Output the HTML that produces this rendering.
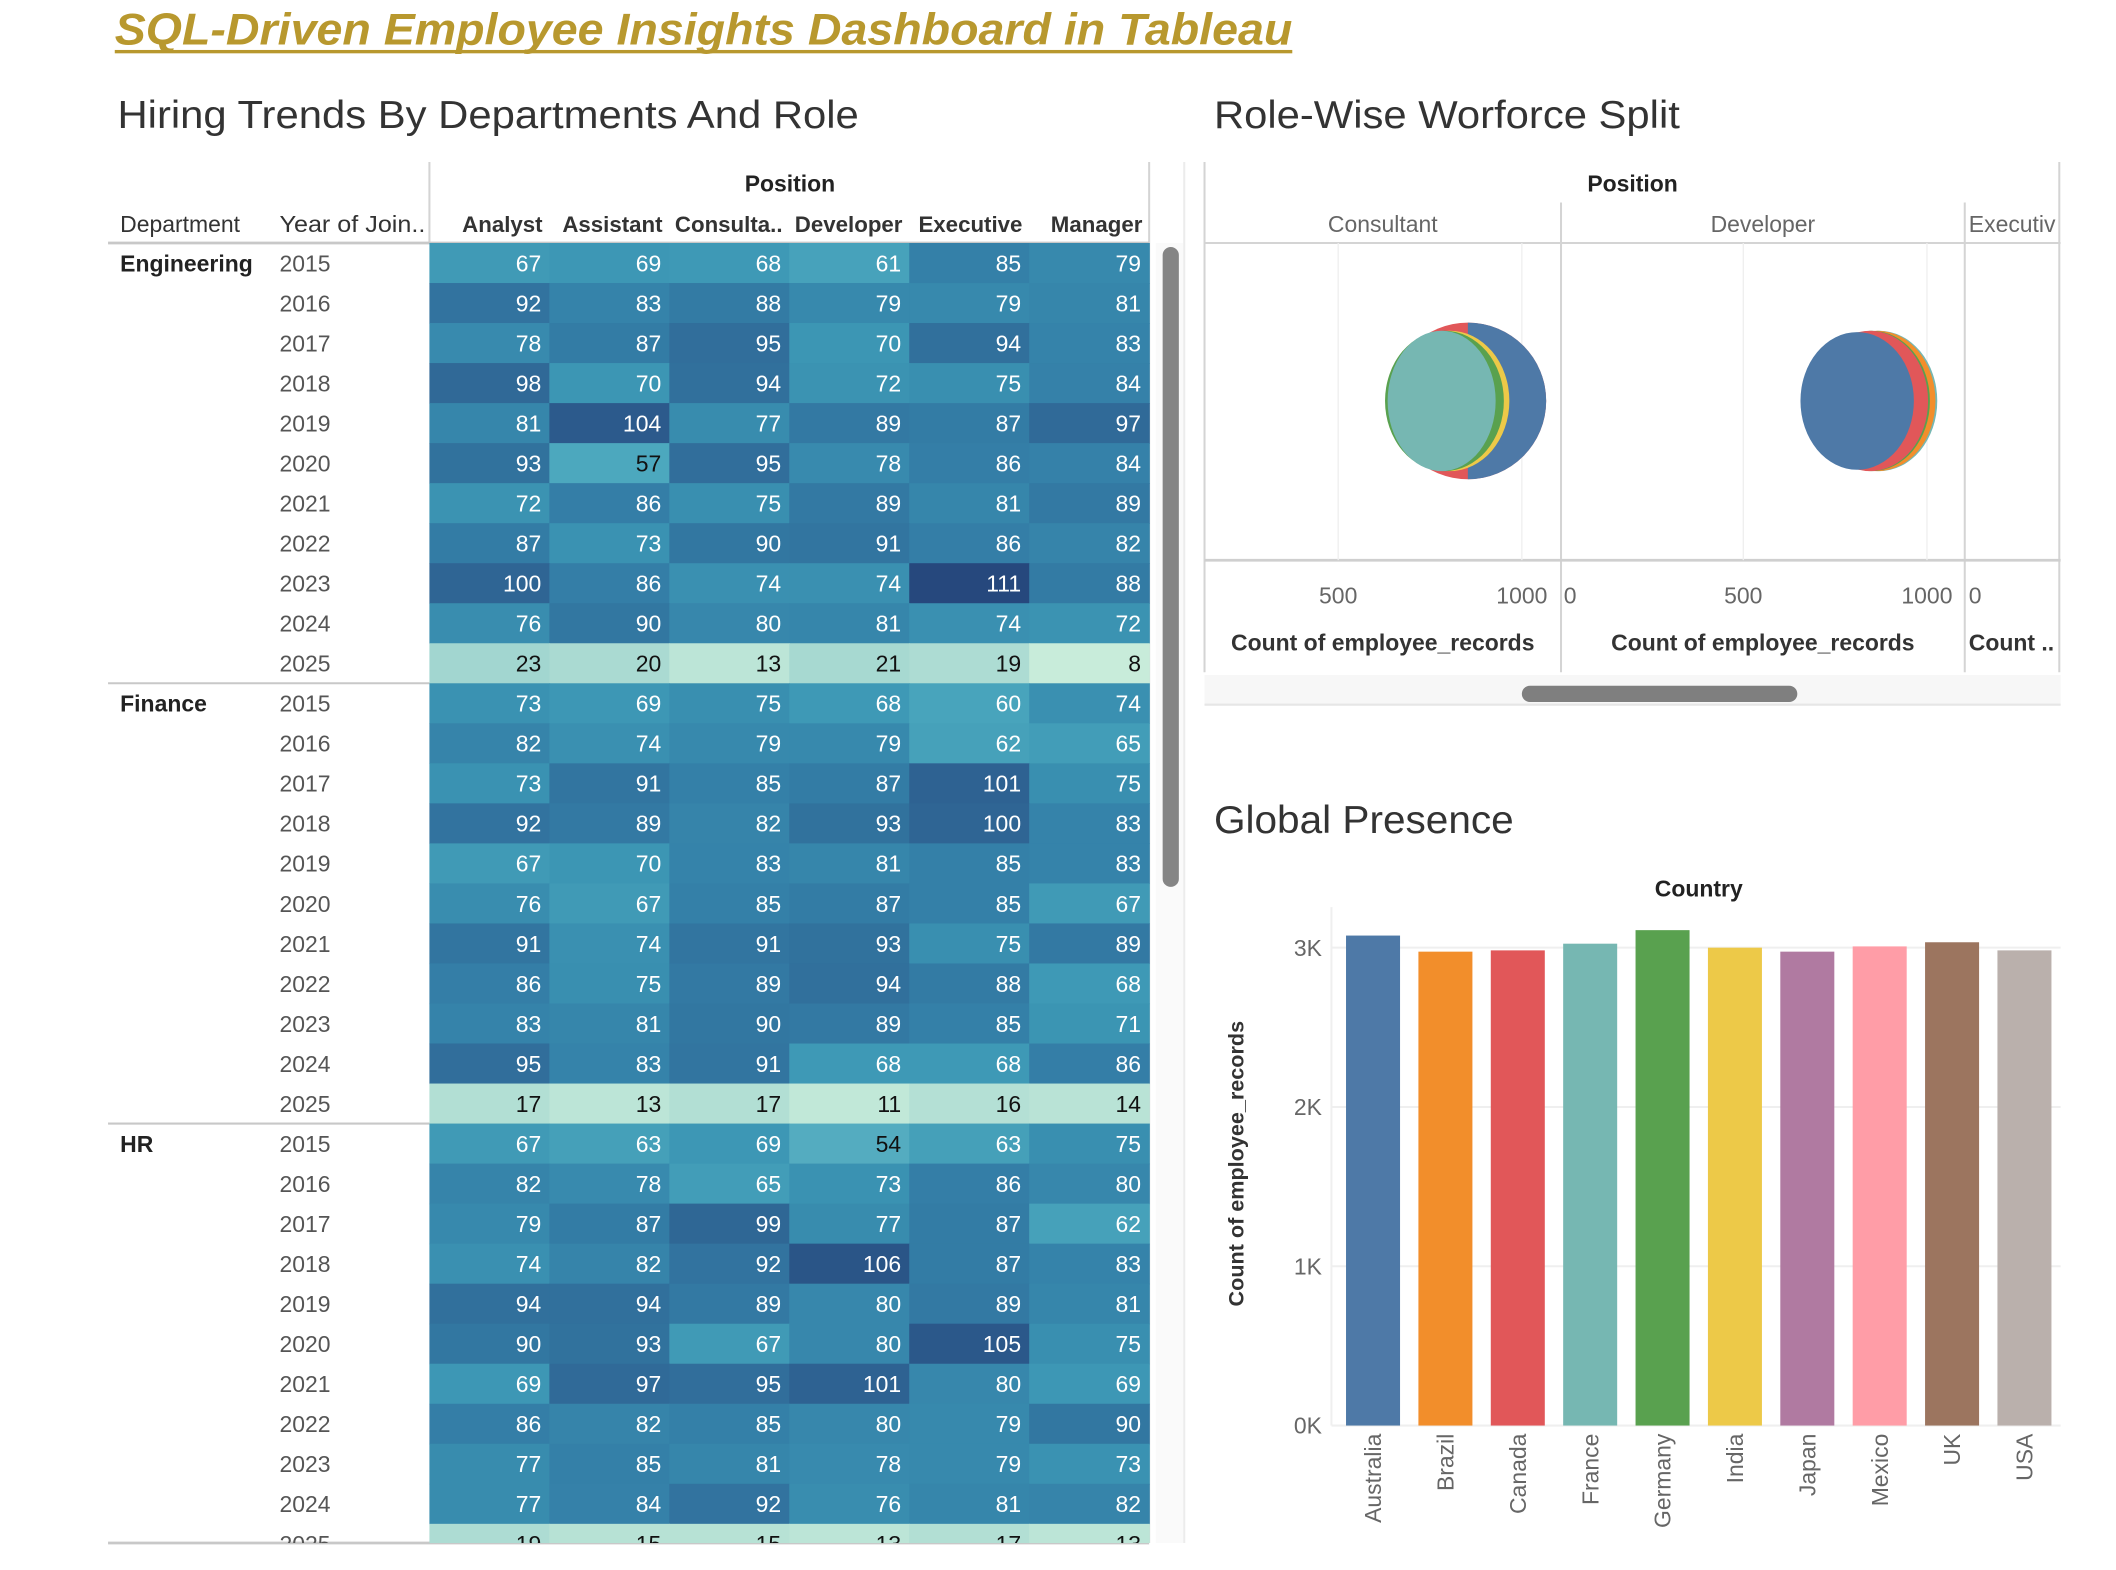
<!DOCTYPE html>
<html><head><meta charset="utf-8">
<style>
html,body{margin:0;padding:0;background:#fff;}
svg{display:block;}
text{font-family:"Liberation Sans",sans-serif;}
</style></head>
<body>
<svg id="dash" width="2116" height="1570" viewBox="0 0 1567 1163" preserveAspectRatio="none" xmlns="http://www.w3.org/2000/svg">
  <rect x="0" y="0" width="1567" height="1163" fill="#ffffff"/>
  <text x="85" y="33" font-size="33" font-style="italic" font-weight="bold" fill="#b8982e" textLength="872" lengthAdjust="spacingAndGlyphs">SQL-Driven Employee Insights Dashboard in Tableau</text>
  <rect x="85" y="37" width="872" height="2.5" fill="#b8982e"/>
  <text x="87" y="95" font-size="29" fill="#333" textLength="549" lengthAdjust="spacingAndGlyphs">Hiring Trends By Departments And Role</text>
  <text x="899" y="95" font-size="29" fill="#333" textLength="345" lengthAdjust="spacingAndGlyphs">Role-Wise Worforce Split</text>
  <text x="899" y="617" font-size="29" fill="#333" textLength="222" lengthAdjust="spacingAndGlyphs">Global Presence</text>

  <g id="heat">
    <text x="585" y="142" font-size="17" font-weight="bold" fill="#222" text-anchor="middle">Position</text>
    <text x="89" y="172" font-size="17" fill="#333">Department</text>
    <text x="207" y="172" font-size="17" fill="#333" textLength="108" lengthAdjust="spacingAndGlyphs">Year of Join..</text>
    <line x1="318" y1="120" x2="318" y2="180" stroke="#d4d4d4" stroke-width="1.5"/>
    <line x1="851" y1="120" x2="851" y2="1143" stroke="#d4d4d4" stroke-width="1.5"/>
    <line x1="80" y1="180" x2="851" y2="180" stroke="#c8c8c8" stroke-width="2"/>
    <line x1="80" y1="1143" x2="851" y2="1143" stroke="#c8c8c8" stroke-width="2"/>
  </g>
  <rect x="856" y="180" width="21" height="963" fill="#fafafa"/>
  <rect x="861" y="183" width="12" height="474" rx="6" fill="#858585"/>
  <line x1="877" y1="120" x2="877" y2="1143" stroke="#ececec" stroke-width="1.5"/>

  <g id="bub">
    <text x="1209" y="142" font-size="17" font-weight="bold" fill="#222" text-anchor="middle">Position</text>
    <line x1="892" y1="120" x2="892" y2="498" stroke="#d4d4d4" stroke-width="1.5"/>
    <line x1="1525" y1="120" x2="1525" y2="498" stroke="#d4d4d4" stroke-width="1.5"/>
    <line x1="892" y1="180" x2="1526" y2="180" stroke="#d4d4d4" stroke-width="1.5"/>
    <line x1="1156" y1="150" x2="1156" y2="498" stroke="#d4d4d4" stroke-width="1.5"/>
    <line x1="1455" y1="150" x2="1455" y2="498" stroke="#d4d4d4" stroke-width="1.5"/>
    <line x1="892" y1="415" x2="1526" y2="415" stroke="#cfcfcf" stroke-width="2"/>
  </g>
  <rect x="892" y="500" width="634" height="22" fill="#f7f7f7"/>
  <line x1="892" y1="522" x2="1526" y2="522" stroke="#e6e6e6" stroke-width="1.5"/>
  <rect x="1127" y="508" width="204" height="12" rx="6" fill="#7f7f7f"/>

  <g id="bar">
    <text x="1258" y="664" font-size="17" font-weight="bold" fill="#222" text-anchor="middle">Country</text>
    <text transform="translate(921,862) rotate(-90)" font-size="16" font-weight="bold" fill="#333" text-anchor="middle">Count of employee_records</text>
  </g>
</svg>
<script>
// ---------- heatmap data ----------
const departments = ["Engineering","Finance","HR"];
const years = ["2015","2016","2017","2018","2019","2020","2021","2022","2023","2024","2025"];
const positions = ["Analyst","Assistant","Consulta..","Developer","Executive","Manager"];
const engValues = [
 [67,69,68,61,85,79],[92,83,88,79,79,81],[78,87,95,70,94,83],[98,70,94,72,75,84],
 [81,104,77,89,87,97],[93,57,95,78,86,84],[72,86,75,89,81,89],[87,73,90,91,86,82],
 [100,86,74,74,111,88],[76,90,80,81,74,72],[23,20,13,21,19,8]];
const finValues = [
 [73,69,75,68,60,74],[82,74,79,79,62,65],[73,91,85,87,101,75],[92,89,82,93,100,83],
 [67,70,83,81,85,83],[76,67,85,87,85,67],[91,74,91,93,75,89],[86,75,89,94,88,68],
 [83,81,90,89,85,71],[95,83,91,68,68,86],[17,13,17,11,16,14]];
const hrValues = [
 [67,63,69,54,63,75],[82,78,65,73,86,80],[79,87,99,77,87,62],[74,82,92,106,87,83],
 [94,94,89,80,89,81],[90,93,67,80,105,75],[69,97,95,101,80,69],[86,82,85,80,79,90],
 [77,85,81,78,79,73],[77,84,92,76,81,82],[19,15,15,13,17,13]];

// ---------- bubble data ----------
const bubblePanes = ["Consultant","Developer","Executiv"];
const consultantCountries = ["Canada","Australia","India","Germany","France"];
const consultantCounts = [853,853,830,815,800];
const developerCountries = ["France","Brazil","Germany","Canada","Australia"];
const developerCounts = [870,865,850,845,810];
const bubbleTicks = [0,500,1000];

// ---------- bar data ----------
const countries = ["Australia","Brazil","Canada","France","Germany","India","Japan","Mexico","UK","USA"];
const countryCounts = [3076,2975,2983,3025,3110,3000,2975,3008,3034,2983];
const barTicks = [0,1000,2000,3000];
const barTickLabels = ["0K","1K","2K","3K"];

const NS="http://www.w3.org/2000/svg";
function mk(tag, parent, attrs){
  const e=document.createElementNS(NS,tag);
  for(const k in attrs) e.setAttribute(k,attrs[k]);
  parent.appendChild(e); return e;
}
const svg=document.getElementById('dash');

// heatmap
const heat=document.getElementById('heat');
const hx0=318, hx1=851, hy0=180, rowH=29.65, clipBottom=1143;
const colW=(hx1-hx0)/positions.length;
const xCol=i=>hx0+i*colW;
const yRow=i=>hy0+i*rowH;
const stops=[[8,[200,236,218]],[20,[170,218,210]],[57,[76,168,190]],[70,[60,150,180]],[85,[52,128,168]],[100,[47,101,148]],[111,[38,72,125]]];
function color(v){
  if(v<=stops[0][0]) return 'rgb('+stops[0][1]+')';
  for(let i=1;i<stops.length;i++){
    if(v<=stops[i][0]){const a=stops[i-1],b=stops[i];const t=(v-a[0])/(b[0]-a[0]);
      return 'rgb('+a[1].map((c,j)=>Math.round(c+(b[1][j]-c)*t)).join(',')+')';}
  }
  return 'rgb('+stops[stops.length-1][1]+')';
}
const cp=mk('clipPath',svg,{id:'hclip'});
mk('rect',cp,{x:0,y:hy0,width:1550,height:clipBottom-hy0});
positions.forEach((p,i)=>{
  const t=mk('text',heat,{x:xCol(i)+colW-5,y:172,'font-size':16.5,'font-weight':'bold',fill:'#333','text-anchor':'end'});
  
  
  t.textContent=p;
});
const body=mk('g',heat,{'clip-path':'url(#hclip)'});
const allVals=[engValues,finValues,hrValues];
departments.forEach((d,di)=>{
  const base=di*years.length;
  const dl=mk('text',body,{x:89,y:yRow(base)+21,'font-size':17,'font-weight':'bold',fill:'#222'});
  
  
  dl.textContent=d;
  if(di>0){
    const sep=mk('line',body,{x1:80,x2:hx0,y1:yRow(base),y2:yRow(base),stroke:'#c8c8c8','stroke-width':1.5});
    
    
  }
  years.forEach((y,yi)=>{
    const r=base+yi;
    const yl=mk('text',body,{x:207,y:yRow(r)+21,'font-size':17,fill:'#555'});
    
    
    yl.textContent=y;
    allVals[di][yi].forEach((v,ci)=>{
      const c=mk('rect',body,{x:xCol(ci),y:yRow(r),width:colW+0.5,height:rowH+0.5,fill:color(v)});
      
      
      const t=mk('text',body,{x:xCol(ci)+colW-6,y:yRow(r)+21,'font-size':17,fill:v<58?'#111':'#fff','text-anchor':'end'});
      
      
      t.textContent=v;
    });
  });
});

// bubbles
const bub=document.getElementById('bub');
const paneLeft=[892,1156,1455], paneRight=[1156,1455,1525];
const paneZero=[855,1155,1455];
const pxPer=136/500;
const bx=(p,v)=>paneZero[p]+v*pxPer;
const cyB=297;
bubblePanes.forEach((n,i)=>{
  const cx=i<2?(paneLeft[i]+paneRight[i])/2:paneLeft[i]+3;
  const t=mk('text',bub,{x:cx,y:172,'font-size':17,fill:'#666','text-anchor':i<2?'middle':'start'});
  
  
  t.textContent=n;
  const at=mk('text',bub,{x:cx,y:482,'font-size':17,'font-weight':'bold',fill:'#333','text-anchor':i<2?'middle':'start'});
  
  
  at.textContent=i<2?'Count of employee_records':'Count ..';
});
const bclip=mk('clipPath',svg,{id:'bclip'});
mk('rect',bclip,{x:892,y:180,width:634,height:235});
const bg=mk('g',bub,{'clip-path':'url(#bclip)'});
[0,1].forEach(p=>{
  bubbleTicks.forEach(tv=>{
    if(tv===0) return;
    const gl=mk('line',bg,{x1:bx(p,tv),x2:bx(p,tv),y1:180,y2:415,stroke:'#efefef','stroke-width':1});
    
    
  });
});
[0,1,2].forEach(p=>{
  bubbleTicks.forEach(tv=>{
    const x=bx(p,tv);
    if(x<paneLeft[p]-1||x>paneRight[p]+1) return;
    const t=mk('text',bub,{x:tv===0?x+3:x,y:447,'font-size':17,fill:'#666','text-anchor':tv===0?'start':'middle'});
    
    
    t.textContent=tv;
  });
});
const tab={Australia:'#4e79a7',Brazil:'#f28e2b',Canada:'#e15759',France:'#76b7b2',Germany:'#59a14f',India:'#edc948',Japan:'#b07aa1',Mexico:'#ff9da7',UK:'#9c755f',USA:'#bab0ac'};
const cClip=mk('clipPath',svg,{id:'rhalf'});
mk('rect',cClip,{x:bx(0,consultantCounts[1]),y:180,width:300,height:235});
consultantCountries.forEach((c,i)=>{
  const v=consultantCounts[i];
  let e;
  if(i===0){e=mk('ellipse',bg,{cx:bx(0,v),cy:cyB,rx:58,ry:58,fill:tab[c]});}
  else if(i===1){e=mk('ellipse',bg,{cx:bx(0,v),cy:cyB,rx:58,ry:58,fill:tab[c],'clip-path':'url(#rhalf)'});}
  else {e=mk('ellipse',bg,{cx:bx(0,v)-(i===4?5:7),cy:cyB,rx:i===4?40:44,ry:52,fill:tab[c]});}
  
  
});
developerCountries.forEach((c,i)=>{
  const v=developerCounts[i];
  const e=mk('ellipse',bg,{cx:bx(1,v),cy:cyB,rx:i===4?42:43,ry:i===4?51:52,fill:tab[c]});
  
  
});

// bar chart
const bar=document.getElementById('bar');
const px0=986, px1=1526, y0=1056, pxPerK=118;
const yv=v=>y0-v/1000*pxPerK;
const step=(px1-px0-4)/countries.length;
const xc=i=>px0+4+step*(i+0.5);
barTicks.forEach((tv,i)=>{
  const gl=mk('line',bar,{x1:px0,x2:px1,y1:yv(tv),y2:yv(tv),stroke:'#efefef','stroke-width':1.5});
  
  
  const t=mk('text',bar,{x:979,y:yv(tv)+6,'font-size':17,fill:'#666','text-anchor':'end'});
  
  
  t.textContent=barTickLabels[i];
});
const ax=mk('line',bar,{x1:px0,x2:px0,y1:672,y2:1056,stroke:'#efefef','stroke-width':1.5});


countries.forEach((c,i)=>{
  const r=mk('rect',bar,{x:xc(i)-20,y:yv(countryCounts[i]),width:40,height:y0-yv(countryCounts[i]),fill:tab[c]});
  
  
  const t=mk('text',bar,{transform:'translate('+(xc(i)+6)+',1062) rotate(-90)','font-size':17,fill:'#666','text-anchor':'end'});
  
  
  t.textContent=c;
});
</script>
</body></html>
